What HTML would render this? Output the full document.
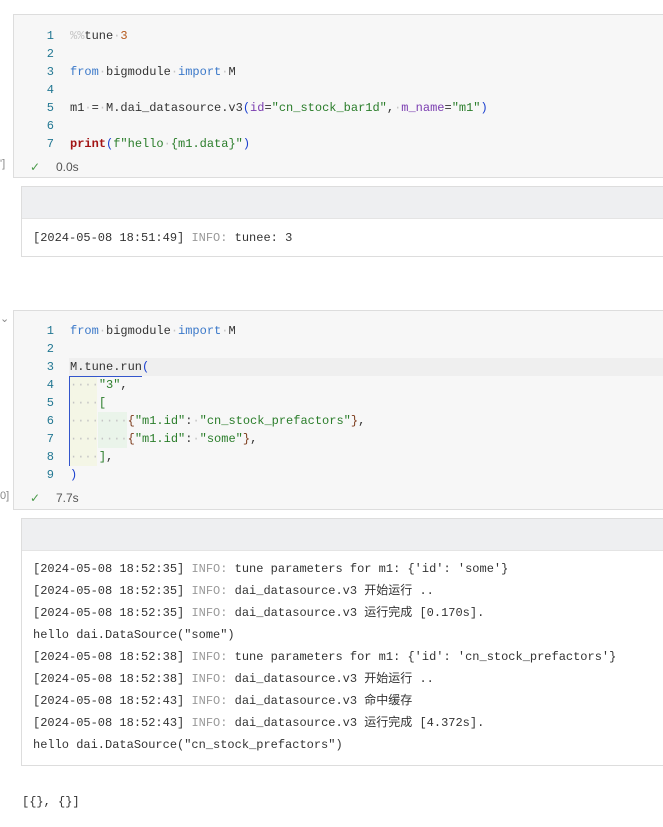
<!DOCTYPE html>
<html><head><meta charset="utf-8"><style>
body{margin:0;width:663px;height:827px;background:#fff;position:relative;overflow:hidden;font-family:"Liberation Mono","Noto Sans CJK SC",monospace;font-size:12px;color:#333}
.cell{position:absolute;left:13px;width:660px;background:#f7f7f7;border:1px solid #ddd;box-sizing:border-box}
.out{position:absolute;left:21px;width:650px;background:#fff;border:1px solid #ddd;box-sizing:border-box}
.hdr{height:31px;background:#eeeff1;border-bottom:1px solid #e4e4e4}
.ln{position:absolute;left:0;width:40px;text-align:right;color:#237893;line-height:18px}
.code{position:absolute;left:56px;line-height:18px;white-space:pre;color:#333}
.d{color:#c4c4c4}.k{color:#3a78c9}.n{color:#b5581b}.s{color:#2a7d2a}.p{color:#7a3cb0}.f{color:#a31515;font-weight:bold}.b{color:#1a3fcf}.br{color:#7b3a1a}
.time{position:absolute;font-family:"Liberation Sans",sans-serif;font-size:12px;color:#555}
.chk{position:absolute;color:#4a9a4a;font-family:"DejaVu Sans",sans-serif;font-size:12px}
.o{position:absolute;left:11px;white-space:pre;line-height:22px;color:#333}
.i{color:#999}
.lb{position:absolute;left:0;font-size:11px;color:#888;font-family:"Liberation Sans",sans-serif}
</style></head><body>
<div class="lb" style="top:158px">']</div>
<div class="cell" style="top:14px;height:164px">
 <div class="ln" style="top:12px">1<br>2<br>3<br>4<br>5<br>6<br>7</div>
 <div class="code" style="top:12px"><span class="d">%%</span>tune<span class="d">·</span><span class="n">3</span>

<span class="k">from</span><span class="d">·</span>bigmodule<span class="d">·</span><span class="k">import</span><span class="d">·</span>M

m1<span class="d">·</span>=<span class="d">·</span>M.dai_datasource.v3<span class="b">(</span><span class="p">id</span>=<span class="s">"cn_stock_bar1d"</span>,<span class="d">·</span><span class="p">m_name</span>=<span class="s">"m1"</span><span class="b">)</span>

<span class="f">print</span><span class="b">(</span><span class="s">f"hello</span><span class="d">·</span><span class="s">{m1.data}"</span><span class="b">)</span></div>
 <div class="chk" style="left:16px;top:145px">✓</div>
 <div class="time" style="left:42px;top:145px">0.0s</div>
</div>
<div class="out" style="top:186px;height:71px">
 <div class="hdr"></div>
 <div class="o" style="top:40px">[2024-05-08 18:51:49] <span class="i">INFO:</span> tunee: 3</div>
</div>

<div class="lb" style="top:312px">⌄</div>
<div class="lb" style="top:490px">0]</div>
<div class="cell" style="top:310px;height:200px">
 <div style="position:absolute;left:55px;top:47px;width:600px;height:18px;background:#efefef"></div>
 <div style="position:absolute;left:55px;top:65px;width:28px;height:90px;background:#f4f6e6"></div>
 <div style="position:absolute;left:84px;top:101px;width:29px;height:36px;background:#eaf4ea"></div>
 <div style="position:absolute;left:55px;top:65px;width:1px;height:90px;background:#3355cc"></div>
 <div style="position:absolute;left:55px;top:65px;width:73px;height:1px;background:#3355cc"></div>
 <div class="ln" style="top:11px">1<br>2<br>3<br>4<br>5<br>6<br>7<br>8<br>9</div>
 <div class="code" style="top:11px"><span class="k">from</span><span class="d">·</span>bigmodule<span class="d">·</span><span class="k">import</span><span class="d">·</span>M

M.tune.run<span class="b">(</span>
<span class="d">····</span><span class="s">"3"</span>,
<span class="d">····</span><span class="s">[</span>
<span class="d">········</span><span class="br">{</span><span class="s">"m1.id"</span>:<span class="d">·</span><span class="s">"cn_stock_prefactors"</span><span class="br">}</span>,
<span class="d">········</span><span class="br">{</span><span class="s">"m1.id"</span>:<span class="d">·</span><span class="s">"some"</span><span class="br">}</span>,
<span class="d">····</span><span class="s">]</span>,
<span class="b">)</span></div>
 <div class="chk" style="left:16px;top:180px">✓</div>
 <div class="time" style="left:42px;top:180px">7.7s</div>
</div>
<div class="out" style="top:518px;height:248px">
 <div class="hdr"></div>
 <div class="o" style="top:39px">[2024-05-08 18:52:35] <span class="i">INFO:</span> tune parameters for m1: {'id': 'some'}
[2024-05-08 18:52:35] <span class="i">INFO:</span> dai_datasource.v3 开始运行 ..
[2024-05-08 18:52:35] <span class="i">INFO:</span> dai_datasource.v3 运行完成 [0.170s].
hello dai.DataSource("some")
[2024-05-08 18:52:38] <span class="i">INFO:</span> tune parameters for m1: {'id': 'cn_stock_prefactors'}
[2024-05-08 18:52:38] <span class="i">INFO:</span> dai_datasource.v3 开始运行 ..
[2024-05-08 18:52:43] <span class="i">INFO:</span> dai_datasource.v3 命中缓存
[2024-05-08 18:52:43] <span class="i">INFO:</span> dai_datasource.v3 运行完成 [4.372s].
hello dai.DataSource("cn_stock_prefactors")</div>
</div>
<div style="position:absolute;left:22px;top:795px;white-space:pre">[{}, {}]</div>
</body></html>
